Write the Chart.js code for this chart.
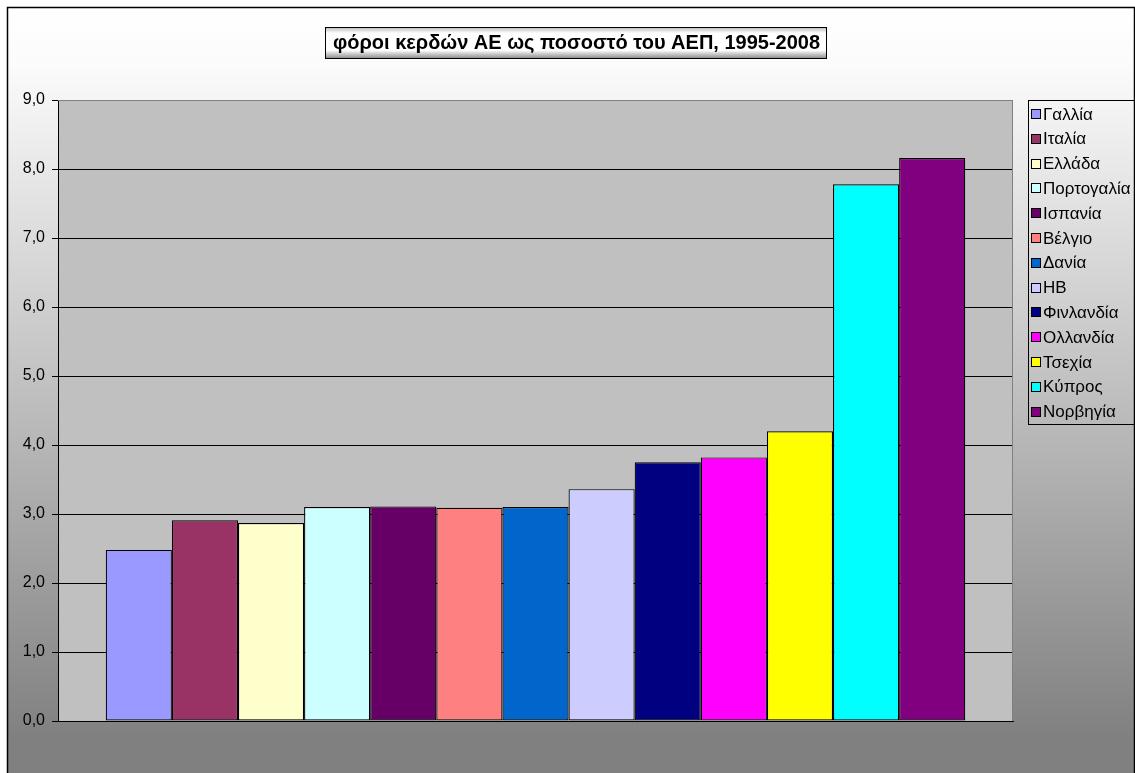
<!DOCTYPE html>
<html>
<head>
<meta charset="utf-8">
<script src="https://cdn.jsdelivr.net/npm/chart.js@4/dist/chart.umd.min.js"></script>
<style>
html,body{margin:0;padding:0;background:#fff;}
#wrap{width:1135px;height:773px;}
</style>
</head>
<body>
<div id="wrap"><canvas id="c" width="1135" height="773"></canvas></div>
<script>
const titleText = 'φόροι κερδών ΑΕ ως ποσοστό του ΑΕΠ, 1995-2008';
const countries = ['Γαλλία','Ιταλία','Ελλάδα','Πορτογαλία','Ισπανία','Βέλγιο','Δανία','ΗΒ','Φινλανδία','Ολλανδία','Τσεχία','Κύπρος','Νορβηγία'];
const values = [2.48, 2.91, 2.87, 3.10, 3.11, 3.09, 3.10, 3.36, 3.75, 3.82, 4.20, 7.78, 8.16];
const colors = ['#9999FF','#993366','#FFFFCC','#CCFFFF','#660066','#FF8080','#0066CC','#CCCCFF','#000080','#FF00FF','#FFFF00','#00FFFF','#800080'];
const yMin = 0, yMax = 9, yStep = 1;

const FONT = '"Liberation Sans", Arial, sans-serif';

const datasets = countries.map((name, i) => ({
  label: name,
  data: [values[i]],
  backgroundColor: colors[i],
  borderColor: '#000000',
  borderWidth: 1.2,
  borderSkipped: false,
  categoryPercentage: 0.9,
  barPercentage: 1.0
}));

const decor = {
  id: 'decor',
  beforeDraw(chart) {
    const ctx = chart.ctx;
    const W = chart.width, H = chart.height;
    ctx.save();
    ctx.fillStyle = '#ffffff';
    ctx.fillRect(0, 0, W, H);
    const g = ctx.createLinearGradient(0, 7, 0, 740);
    g.addColorStop(0, '#ffffff');
    g.addColorStop(0.08, '#fbfbfb');
    g.addColorStop(1, '#808080');
    ctx.fillStyle = g;
    ctx.fillRect(7, 7, W - 7, H - 7);
    ctx.strokeStyle = '#000000';
    ctx.lineWidth = 1.5;
    ctx.strokeRect(7.5, 7.5, W - 8, H + 10);
    const a = chart.chartArea;
    ctx.fillStyle = '#C0C0C0';
    ctx.fillRect(a.left, a.top, a.right - a.left, a.bottom - a.top);
    ctx.restore();
  },
  afterDatasetsDraw(chart) {
    const ctx = chart.ctx;
    const a = chart.chartArea;
    ctx.save();
    ctx.strokeStyle = '#808080';
    ctx.lineWidth = 1;
    ctx.beginPath();
    ctx.moveTo(a.left, a.top + 0.5);
    ctx.lineTo(a.right - 0.5, a.top + 0.5);
    ctx.lineTo(a.right - 0.5, a.bottom);
    ctx.stroke();

    // title box
    const tx = 325, ty = 27, tw = 501, th = 31;
    const tg = ctx.createLinearGradient(0, ty, 0, ty + th);
    tg.addColorStop(0, '#b8b8b8');
    tg.addColorStop(0.2, '#ffffff');
    tg.addColorStop(0.75, '#ffffff');
    tg.addColorStop(1, '#909090');
    ctx.fillStyle = tg;
    ctx.fillRect(tx, ty, tw, th);
    ctx.strokeStyle = '#000000';
    ctx.lineWidth = 1;
    ctx.strokeRect(tx + 0.5, ty + 0.5, tw, th);
    ctx.fillStyle = '#000000';
    ctx.font = 'bold 20px ' + FONT;
    ctx.textAlign = 'center';
    ctx.textBaseline = 'middle';
    ctx.fillText(titleText, tx + tw / 2 + 1, ty + th / 2 + 1);

    // legend
    const lx = 1028, ly = 100, lw = 120, lh = 324;
    ctx.strokeStyle = '#000000';
    ctx.lineWidth = 1;
    ctx.strokeRect(lx + 0.5, ly + 0.5, lw, lh);
    ctx.font = '17px ' + FONT;
    ctx.textAlign = 'left';
    ctx.textBaseline = 'middle';
    chart.data.datasets.forEach((ds, i) => {
      const cy = 114 + i * 24.8;
      ctx.fillStyle = ds.backgroundColor;
      ctx.fillRect(1031, Math.round(cy) - 5, 10, 10);
      ctx.strokeStyle = '#000000';
      ctx.strokeRect(1031.5, Math.round(cy) - 4.5, 9, 9);
      ctx.fillStyle = '#000000';
      ctx.fillText(ds.label, 1043, cy + 1);
    });
    ctx.restore();
  }
};

new Chart(document.getElementById('c'), {
  type: 'bar',
  data: { labels: [''], datasets },
  options: {
    responsive: false,
    animation: false,
    layout: { padding: { left: 0, top: 100, right: 122, bottom: 52 } },
    plugins: { legend: { display: false }, title: { display: false }, tooltip: { enabled: false } },
    scales: {
      x: {
        grid: { display: false, drawTicks: false },
        border: { display: true, color: '#000000', width: 1 },
        ticks: { display: false },
        afterFit(s) { s.height = 0; }
      },
      y: {
        min: yMin, max: yMax,
        afterFit(s) { s.width = 58; },
        ticks: {
          stepSize: yStep,
          color: '#000000',
          padding: 7,
          font: { family: FONT, size: 16 },
          callback: v => v.toFixed(1).replace('.', ',')
        },
        grid: {
          color: ctx => (ctx.tick && ctx.tick.value === yMax) ? '#808080' : '#000000',
          tickColor: '#000000',
          tickLength: 6,
          lineWidth: 1
        },
        border: { display: true, color: '#000000', width: 1 }
      }
    }
  },
  plugins: [decor]
});
</script>
</body>
</html>
